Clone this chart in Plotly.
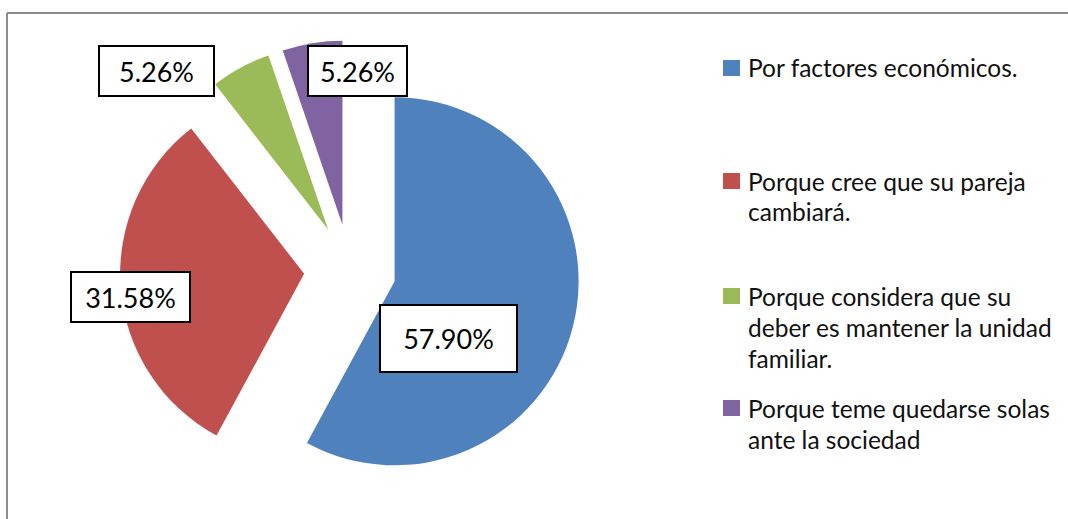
import plotly.graph_objects as go

W, H = 1068, 519

categories = [
    "Por factores económicos.",
    "Porque cree que su pareja cambiará.",
    "Porque considera que su deber es mantener la unidad familiar.",
    "Porque teme quedarse solas ante la sociedad",
]
legend_lines = [
    ["Por factores económicos."],
    ["Porque cree que su pareja", "cambiará."],
    ["Porque considera que su", "deber es mantener la unidad", "familiar."],
    ["Porque teme quedarse solas", "ante la sociedad"],
]
values = [57.90, 31.58, 5.26, 5.26]
colors = ["#4F81BD", "#C0504D", "#9BBB59", "#8064A2"]

FONT = "Lato"

def px(x):
    return x / W

def py(y):
    return 1 - y / H

fig = go.Figure()
fig.add_trace(go.Pie(
    labels=categories,
    values=values,
    marker=dict(colors=colors, line=dict(width=0)),
    sort=False,
    direction="clockwise",
    rotation=0,
    pull=[0.25, 0.25, 0.25, 0.25],
    textinfo="none",
    hoverinfo="label+percent",
    showlegend=False,
    domain=dict(x=[px(120), px(580)], y=[py(500), py(40)]),
))

# data label boxes (layout positions in pixels: center x, center y, width, height)
label_boxes = [
    (448.5, 338.5, 139, 69),
    (130.5, 297, 121, 52),
    (156.5, 71, 117, 52),
    (357.5, 71, 101, 52),
]
annotations = []
for v, (cx, cy, bw, bh) in zip(values, label_boxes):
    annotations.append(dict(
        x=px(cx), y=py(cy), xref="paper", yref="paper",
        text=f"{v:.2f}%", showarrow=False,
        font=dict(family=FONT, size=27, color="#000000"),
        bgcolor="#FFFFFF", bordercolor="#000000", borderwidth=2, borderpad=0,
        width=bw - 4, height=bh - 4, align="center", valign="middle",
        xanchor="center", yanchor="middle",
    ))

# manual legend
legend_tops = [68, 181, 296, 408]
line_gap = 31
shapes = []
for lines, top, col in zip(legend_lines, legend_tops, colors):
    shapes.append(dict(
        type="rect", xref="paper", yref="paper",
        x0=px(723), x1=px(740), y0=py(top - 8), y1=py(top + 8),
        fillcolor=col, line=dict(width=0),
    ))
    for i, ln in enumerate(lines):
        annotations.append(dict(
            x=px(746), y=py(top + i * line_gap), xref="paper", yref="paper",
            text=ln, showarrow=False, xanchor="left", yanchor="middle",
            font=dict(family=FONT, size=24.5, color="#111111"),
        ))

# chart border (top and left visible)
shapes.append(dict(type="line", xref="paper", yref="paper",
                   x0=px(7), x1=1.01, y0=py(13), y1=py(13),
                   line=dict(color="#8C8C8C", width=2)))
shapes.append(dict(type="line", xref="paper", yref="paper",
                   x0=px(7), x1=px(7), y0=py(13), y1=-0.01,
                   line=dict(color="#8C8C8C", width=2)))

fig.update_layout(
    width=W, height=H,
    margin=dict(l=0, r=0, t=0, b=0),
    paper_bgcolor="#FFFFFF",
    plot_bgcolor="#FFFFFF",
    annotations=annotations,
    shapes=shapes,
    showlegend=False,
)

fig.write_html(
    "out.html",
    config={"displayModeBar": False},
    post_script="document.body.style.margin='0';document.body.style.overflow='hidden';",
)
